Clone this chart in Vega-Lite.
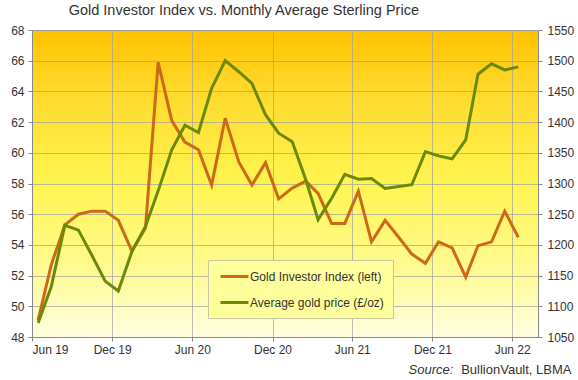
{
  "$schema": "https://vega.github.io/schema/vega-lite/v6.json",
  "width": 506,
  "height": 307,
  "autosize": {"type": "none"},
  "padding": {"left": 32, "top": 30, "right": 40, "bottom": 43},
  "background": "#FFFFFF",
  "title": {
    "text": "Gold Investor Index vs. Monthly Average Sterling Price",
    "anchor": "start",
    "dx": 58,
    "font": "Liberation Sans",
    "fontSize": 14.5,
    "fontWeight": "normal",
    "color": "#333333",
    "offset": 6
  },
  "config": {
    "view": {
      "stroke": "#999999",
      "fill": {
        "gradient": "linear",
        "x1": 0, "y1": 0, "x2": 0, "y2": 1,
        "stops": [
          {"offset": 0, "color": "#FFC200"},
          {"offset": 0.2, "color": "#FFDA2C"},
          {"offset": 0.5, "color": "#FFF550"},
          {"offset": 0.8, "color": "#FFFB98"},
          {"offset": 1, "color": "#FFFFE2"}
        ]
      }
    },
    "font": "Liberation Sans",
    "axis": {
      "labelFont": "Liberation Sans",
      "labelFontSize": 12,
      "labelColor": "#333333",
      "domainColor": "#888888",
      "tickColor": "#888888",
      "tickSize": 4,
      "gridColor": "#A0A0A0",
      "gridOpacity": 0.7,
      "titleFont": "Liberation Sans",
      "titleFontWeight": "normal",
      "titleColor": "#333333",
      "titleFontSize": 13
    }
  },
  "data": {
    "values": [
      {"date": "2019-06-15", "gii": 49.1, "price": 1073},
      {"date": "2019-07-15", "gii": 52.7, "price": 1132},
      {"date": "2019-08-15", "gii": 55.3, "price": 1232},
      {"date": "2019-09-15", "gii": 56.0, "price": 1224},
      {"date": "2019-10-15", "gii": 56.2, "price": 1184},
      {"date": "2019-11-15", "gii": 56.2, "price": 1141},
      {"date": "2019-12-15", "gii": 55.6, "price": 1125},
      {"date": "2020-01-15", "gii": 53.6, "price": 1189},
      {"date": "2020-02-15", "gii": 55.1, "price": 1230},
      {"date": "2020-03-15", "gii": 65.9, "price": 1288},
      {"date": "2020-04-15", "gii": 62.1, "price": 1355},
      {"date": "2020-05-15", "gii": 60.7, "price": 1395},
      {"date": "2020-06-15", "gii": 60.2, "price": 1383},
      {"date": "2020-07-15", "gii": 57.9, "price": 1455},
      {"date": "2020-08-15", "gii": 62.25, "price": 1500},
      {"date": "2020-09-15", "gii": 59.4, "price": 1482},
      {"date": "2020-10-15", "gii": 57.9, "price": 1463},
      {"date": "2020-11-15", "gii": 59.35, "price": 1412},
      {"date": "2020-12-15", "gii": 57.0, "price": 1382},
      {"date": "2021-01-15", "gii": 57.7, "price": 1368},
      {"date": "2021-02-15", "gii": 58.15, "price": 1306},
      {"date": "2021-03-15", "gii": 57.35, "price": 1241},
      {"date": "2021-04-15", "gii": 55.4, "price": 1276},
      {"date": "2021-05-15", "gii": 55.4, "price": 1315},
      {"date": "2021-06-15", "gii": 57.5, "price": 1307},
      {"date": "2021-07-15", "gii": 54.2, "price": 1308},
      {"date": "2021-08-15", "gii": 55.6, "price": 1292},
      {"date": "2021-09-15", "gii": 54.5, "price": 1295},
      {"date": "2021-10-15", "gii": 53.4, "price": 1298},
      {"date": "2021-11-15", "gii": 52.8, "price": 1352},
      {"date": "2021-12-15", "gii": 54.2, "price": 1345},
      {"date": "2022-01-15", "gii": 53.8, "price": 1340},
      {"date": "2022-02-15", "gii": 51.9, "price": 1371},
      {"date": "2022-03-15", "gii": 53.95, "price": 1478},
      {"date": "2022-04-15", "gii": 54.2, "price": 1495},
      {"date": "2022-05-15", "gii": 56.2, "price": 1485},
      {"date": "2022-06-15", "gii": 54.5, "price": 1490}
    ]
  },
  "encoding": {
    "x": {
      "field": "date",
      "type": "temporal",
      "scale": {
        "type": "utc",
        "domain": [
          {"year": 2019, "month": 6, "date": 1, "utc": true},
          {"year": 2022, "month": 7, "date": 30, "utc": true}
        ]
      },
      "axis": {
        "values": [
          {"year": 2019, "month": 6, "date": 1, "utc": true},
          {"year": 2019, "month": 12, "date": 1, "utc": true},
          {"year": 2020, "month": 6, "date": 1, "utc": true},
          {"year": 2020, "month": 12, "date": 1, "utc": true},
          {"year": 2021, "month": 6, "date": 1, "utc": true},
          {"year": 2021, "month": 12, "date": 1, "utc": true},
          {"year": 2022, "month": 6, "date": 1, "utc": true}
        ],
        "labelExpr": "utcFormat(datum.value, '%b %y')",
        "labelPadding": 3,
        "grid": true,
        "title": "BullionVault, LBMA",
        "titleX": 539,
        "titleY": 32,
        "titleAlign": "right",
        "titleBaseline": "middle",
        "titleAngle": 0
      }
    }
  },
  "layer": [
    {
      "mark": {"type": "line", "strokeWidth": 3, "strokeJoin": "miter"},
      "encoding": {
        "y": {
          "field": "gii",
          "type": "quantitative",
          "scale": {"domain": [48, 68], "nice": false, "zero": false},
          "axis": {
            "orient": "left",
            "values": [48, 50, 52, 54, 56, 58, 60, 62, 64, 66, 68],
            "labelPadding": 4,
            "grid": true,
            "title": null
          }
        },
        "color": {
          "datum": "Gold Investor Index (left)",
          "type": "nominal",
          "scale": {
            "domain": ["Gold Investor Index (left)", "Average gold price (£/oz)"],
            "range": ["#CC6A1A", "#6B8A0A"]
          },
          "legend": {
            "title": null,
            "orient": "none",
            "legendX": 176,
            "legendY": 230,
            "direction": "vertical",
            "fillColor": "#FFFF9C",
            "strokeColor": "#C8C8A0",
            "padding": 9,
            "rowPadding": 12,
            "symbolType": "M-2.33,0H2.33",
            "symbolSize": 144,
            "symbolStrokeWidth": 3,
            "symbolOffset": 10,
            "labelOffset": 8,
            "labelFont": "Liberation Sans",
            "labelFontSize": 12,
            "labelColor": "#333333"
          }
        }
      }
    },
    {
      "mark": {"type": "line", "strokeWidth": 3, "strokeJoin": "miter"},
      "encoding": {
        "y": {
          "field": "price",
          "type": "quantitative",
          "scale": {"domain": [1050, 1550], "nice": false, "zero": false},
          "axis": {
            "orient": "right",
            "values": [1050, 1100, 1150, 1200, 1250, 1300, 1350, 1400, 1450, 1500, 1550],
            "format": "d",
            "labelPadding": 5,
            "grid": false,
            "title": "Source:",
            "titleFontStyle": "italic",
            "titleAngle": 0,
            "titleX": -130,
            "titleY": 339,
            "titleAlign": "left",
            "titleBaseline": "middle"
          }
        },
        "color": {"datum": "Average gold price (£/oz)", "type": "nominal"}
      }
    }
  ],
  "resolve": {"scale": {"y": "independent"}}
}
